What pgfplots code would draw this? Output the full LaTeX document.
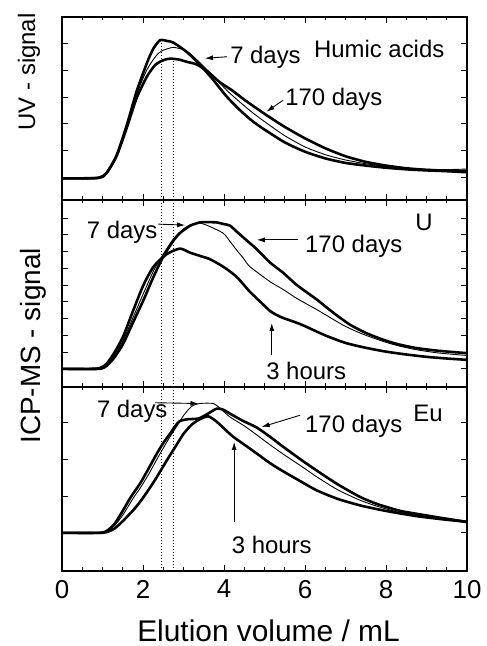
\documentclass[border=0pt]{standalone}
\usepackage{pgfplots}
\pgfplotsset{compat=1.18}
\usepackage{fontspec}
\setmainfont{Liberation Sans}
\usetikzlibrary{arrows.meta}

\pgfplotsset{
  panel/.style={
    scale only axis, width=405bp, xmin=0, xmax=10, clip=false,
    axis line style={line width=1.6pt},
    every tick/.style={line width=0.9pt, black},
    major tick length=6bp, minor tick length=3.5bp,
    xtick={0,2,...,10}, minor x tick num=3,
    tick align=inside, tick pos=both,
    yticklabels={},
    /pgf/number format/assume math mode=true,
    ticklabel style={font=\fontsize{26}{30}\selectfont},
  },
  thk/.style={black, line width=2.6pt, smooth, tension=0.4},
  thn/.style={black, line width=0.9pt, smooth, tension=0.4},
  vdot/.style={black, line width=0.8bp, dash pattern=on 1bp off 2bp},
}
\tikzset{
  ann/.style={font=\fontsize{24}{28}\selectfont, anchor=base west, inner sep=0pt},
  arr/.style={-{Latex[length=8bp,width=5bp]}, line width=0.9pt},
}

\begin{document}
\begin{tikzpicture}
\path[use as bounding box] (0,0) rectangle (487bp,646bp);

% ---------------- Top panel: UV, Humic acids
\begin{axis}[panel, at={(62bp,446bp)}, anchor=south west, height=183bp,
  ymin=-0.86, ymax=6.0, ytick={0,...,5}, xticklabels={},
  ylabel={UV - signal},
  ylabel style={at={(axis description cs:-0.0815,0.70)}, anchor=center, font=\fontsize{24}{28}\selectfont}]
\addplot[thk] table {
0 -0.05
0.5 -0.05
0.9 -0.03
1.1 0.15
1.35 0.82
1.6 1.95
1.84 3.2
2.09 4.25
2.25 4.8
2.42 5.13
2.6 5.1
2.75 5.04
3.08 4.69
3.41 4.2
3.74 3.63
4.07 3.01
4.4 2.5
4.7 2.1
5.0 1.78
5.5 1.3
6.0 0.95
6.5 0.7
7.0 0.53
7.5 0.43
8.0 0.35
8.5 0.29
9.0 0.25
9.5 0.22
10 0.18
};
\addplot[thn] table {
0 -0.05
0.9 -0.03
1.1 0.15
1.35 0.8
1.6 1.9
1.84 3.1
2.09 4.0
2.3 4.5
2.45 4.72
2.75 4.86
3.08 4.72
3.41 4.28
3.74 3.78
4.07 3.25
4.4 2.8
4.7 2.42
5.0 2.08
5.5 1.55
6.0 1.13
6.5 0.84
7.0 0.64
7.5 0.5
8.0 0.4
8.5 0.33
9.0 0.29
9.5 0.28
10 0.3
};
\addplot[thk] table {
0 -0.05
0.9 -0.03
1.1 0.15
1.35 0.8
1.6 1.85
1.84 2.95
2.09 3.75
2.3 4.2
2.5 4.38
2.67 4.44
2.9 4.4
3.08 4.32
3.33 4.22
3.6 3.95
3.9 3.55
4.2 3.25
4.5 2.9
4.8 2.58
5.1 2.27
5.5 1.88
6.0 1.45
6.5 1.08
7.0 0.78
7.5 0.57
8.0 0.43
8.5 0.33
9.0 0.27
9.5 0.24
10 0.22
};
\addplot[vdot] coordinates {(2.45,-0.86) (2.45,5.13)};
\addplot[vdot] coordinates {(2.75,-0.86) (2.75,4.44)};
\node[ann] at (axis cs:6.22,4.47) {Humic acids};
\node[ann] at (axis cs:4.15,4.26) {7 days};
\node[ann] at (axis cs:5.51,2.70) {170 days};
\draw[arr] (axis cs:4.07,4.51) -- (axis cs:3.53,4.45);
\draw[arr] (axis cs:5.46,2.88) -- (axis cs:5.05,2.45);
\end{axis}

% ---------------- Middle panel: U
\begin{axis}[panel, at={(62bp,259bp)}, anchor=south west, height=187bp,
  ymin=-1.08, ymax=10.08, ytick={0,...,9}, xticklabels={},
  ylabel={ICP-MS - signal},
  ylabel style={at={(axis description cs:-0.0716,0.22)}, anchor=center, font=\fontsize{28}{32}\selectfont}]
\addplot[thk] table {
0 0
0.5 0
0.9 0.03
1.1 0.3
1.3 1.0
1.51 1.94
1.76 3.5
2.01 5.0
2.26 6.1
2.58 6.84
2.91 7.18
3.16 6.94
3.41 6.74
3.65 6.55
3.98 6.1
4.31 5.5
4.64 4.6
4.9 4.0
5.14 3.45
5.3 3.22
5.46 3.04
5.8 2.75
6.0 2.55
6.5 2.0
7.0 1.55
7.5 1.26
8.0 1.03
8.5 0.86
9.0 0.72
9.5 0.62
10 0.54
};
\addplot[thn] table {
0 0
0.9 0.02
1.1 0.25
1.3 0.85
1.51 1.7
1.76 3.1
2.01 4.5
2.26 5.85
2.5 6.85
2.75 7.75
3.0 8.35
3.2 8.62
3.4 8.7
3.6 8.55
3.98 8.1
4.15 7.6
4.31 7.1
4.48 6.6
4.64 6.1
5.14 5.2
5.46 4.74
5.8 4.2
6.29 3.54
6.95 2.6
7.4 2.1
7.93 1.64
8.3 1.38
8.76 1.14
9.3 0.95
10 0.8
};
\addplot[thk] table {
0 0
0.9 0.0
1.1 0.18
1.3 0.7
1.51 1.5
1.76 2.8
2.01 4.1
2.26 5.5
2.5 6.7
2.75 7.65
2.91 8.1
3.16 8.54
3.4 8.74
3.6 8.76
3.82 8.74
4.0 8.64
4.15 8.55
4.31 8.2
4.64 7.5
4.81 7.14
5.14 6.34
5.46 5.74
5.8 5.0
6.29 4.14
6.7 3.35
7.11 2.64
7.5 2.15
7.93 1.74
8.3 1.47
8.76 1.24
9.3 1.08
10 0.94
};
\addplot[vdot] coordinates {(2.45,-1.08) (2.45,10.08)};
\addplot[vdot] coordinates {(2.75,-1.08) (2.75,10.08)};
\node[ann] at (axis cs:8.72,8.24) {U};
\node[ann] at (axis cs:0.61,7.78) {7 days};
\node[ann] at (axis cs:6.0,6.94) {170 days};
\node[ann] at (axis cs:5.04,-0.66) {3 hours};
\draw[arr] (axis cs:2.38,8.64) -- (axis cs:3.04,8.58);
\draw[arr] (axis cs:5.83,7.7) -- (axis cs:4.81,7.7);
\draw[arr] (axis cs:5.18,0.84) -- (axis cs:5.18,2.74);
\end{axis}

% ---------------- Bottom panel: Eu
\begin{axis}[panel, at={(62bp,75bp)}, anchor=south west, height=184bp,
  ymin=-1.04, ymax=3.98, ytick={0,1,2,3},
  xticklabel style={yshift=-5.5bp},
  xlabel={Elution volume / mL},
  xlabel style={at={(axis description cs:0.5,0)}, anchor=base, yshift=-70bp, xshift=4bp, font=\fontsize{30}{36}\selectfont}]
\addplot[thk] table {
0 0
0.9 0.0
1.1 0.05
1.3 0.25
1.51 0.62
1.7 0.98
1.93 1.35
2.14 1.76
2.34 2.16
2.5 2.45
2.67 2.71
2.8 2.92
2.91 3.05
3.1 3.1
3.37 3.12
3.6 3.25
3.82 3.39
3.98 3.36
4.2 3.22
4.48 3.05
4.8 2.88
5.14 2.62
5.46 2.35
5.96 1.95
6.29 1.7
6.8 1.33
7.36 0.98
7.8 0.78
8.35 0.6
8.76 0.52
9.3 0.42
10 0.3
};
\addplot[thn] table {
0 0
0.9 0.0
1.1 0.04
1.3 0.2
1.51 0.5
1.76 0.95
1.93 1.22
2.14 1.6
2.34 2.0
2.6 2.5
2.8 2.85
3.0 3.2
3.2 3.45
3.4 3.53
3.74 3.53
3.9 3.4
4.15 3.16
4.5 2.92
4.8 2.68
5.14 2.4
5.46 2.15
5.96 1.78
6.29 1.53
6.8 1.18
7.36 0.89
7.8 0.72
8.35 0.55
8.76 0.47
9.3 0.39
10 0.29
};
\addplot[thk] table {
0 0
0.9 0.0
1.1 0.02
1.3 0.12
1.51 0.33
1.76 0.62
1.93 0.85
2.14 1.18
2.34 1.52
2.6 2.0
2.8 2.35
3.0 2.7
3.2 2.95
3.4 3.1
3.61 3.18
3.8 3.05
4.0 2.85
4.23 2.62
4.64 2.3
5.14 1.9
5.46 1.68
5.9 1.4
6.29 1.16
6.8 0.93
7.36 0.75
7.9 0.62
8.35 0.53
8.8 0.45
9.4 0.37
10 0.3
};
\addplot[vdot] coordinates {(2.45,-1.04) (2.45,3.98)};
\addplot[vdot] coordinates {(2.75,-1.04) (2.75,3.98)};
\node[ann] at (axis cs:8.67,3.03) {Eu};
\node[ann] at (axis cs:0.86,3.15) {7 days};
\node[ann] at (axis cs:6.0,2.75) {170 days};
\node[ann] at (axis cs:4.19,-0.56) {3 hours};
\draw[arr] (axis cs:2.3,3.55) -- (axis cs:3.37,3.53);
\draw[arr] (axis cs:5.88,3.21) -- (axis cs:4.93,2.89);
\draw[arr] (axis cs:4.25,0.3) -- (axis cs:4.25,2.48);
\end{axis}
\end{tikzpicture}
\end{document}
